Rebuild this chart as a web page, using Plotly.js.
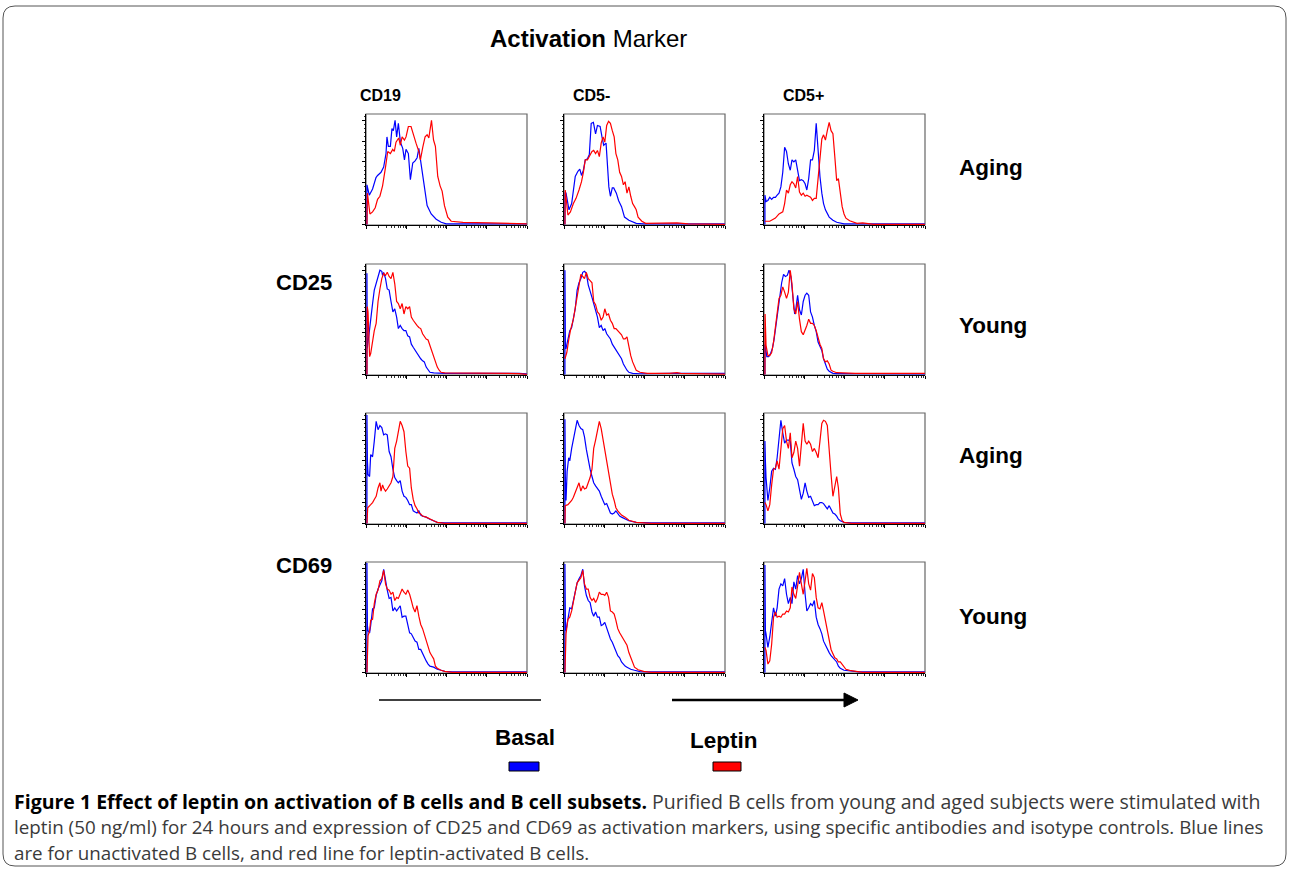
<!DOCTYPE html>
<html><head><meta charset="utf-8">
<script src="https://cdn.plot.ly/plotly-3.0.1.min.js"></script>
<style>html,body{margin:0;padding:0;background:#fff;}#chart{width:1290px;height:869px;}</style>
</head><body><div id="chart"></div>
<script>
// ---------- labels ----------
const columns = ['CD19', 'CD5-', 'CD5+'];
const markers = ['CD25', 'CD69'];
const ages = ['Aging', 'Young', 'Aging', 'Young'];
const seriesNames = ['Basal', 'Leptin'];
const seriesColors = ['#0000ff', '#ff0000'];
const chartTitle = '<b>Activation</b> Marker';
const captionLines = [
  '<b style="color:#000">Figure 1 Effect of leptin on activation of B cells and B cell subsets.</b> Purified B cells from young and aged subjects were stimulated with',
  'leptin (50 ng/ml) for 24 hours and expression of CD25 and CD69 as activation markers, using specific antibodies and isotype controls. Blue lines',
  'are for unactivated B cells, and red line for leptin-activated B cells.'
];

// ---------- histogram data: [channel (0-1023, 4-decade log), relative count (% of max)] ----------
const r1c1_basal = [[0,0],[0,38],[15,28],[36,34],[58,45],[68,47],[90,50],[107,55],[122,68],[128,84],[137,75],[150,75],[160,92],[169,90],[180,100],[190,84],[201,97],[214,79],[229,73],[240,62],[250,72],[265,68],[278,43],[293,59],[308,61],[321,64],[332,73],[347,56],[368,35],[385,18],[411,10],[443,5],[475,2],[507,0.5],[1023,0.5]];
const r1c1_leptin = [[0,0],[3,30],[19,10],[36,12],[53,16],[68,24],[83,27],[100,37],[118,54],[133,70],[150,68],[165,72],[175,70],[186,79],[203,83],[214,76],[225,84],[240,81],[250,84],[265,94],[282,94],[297,86],[314,78],[332,70],[342,62],[357,74],[372,84],[385,86],[396,83],[413,100],[426,81],[438,75],[453,46],[468,37],[481,32],[496,18],[517,7],[539,3],[614,2],[785,1.5],[1023,0.5]];
const r1c2_basal = [[0,0],[1,30],[7,30],[26,14],[43,20],[54,33],[66,46],[83,51],[95,53],[106,47],[118,52],[130,62],[144,63],[156,67],[168,97],[182,98],[196,87],[208,95],[225,94],[237,84],[248,76],[263,78],[272,60],[281,36],[291,27],[303,35],[312,35],[329,30],[343,23],[362,17],[381,7],[409,4],[456,1],[504,0.5],[1023,0.5]];
const r1c2_leptin = [[0,0],[2,33],[19,9],[35,12],[54,20],[71,25],[90,33],[106,41],[118,50],[130,62],[144,62],[161,66],[173,70],[184,71],[196,68],[208,71],[220,65],[232,78],[244,84],[255,79],[267,95],[279,99],[291,97],[303,90],[315,84],[326,68],[338,62],[350,50],[362,46],[374,38],[385,41],[397,30],[409,36],[421,27],[433,20],[445,17],[456,14],[468,7],[492,3],[516,1],[669,1],[717,1.5],[788,0.5],[1023,0]];
const r1c3_basal = [[0,0],[0,28],[7,22],[19,23],[31,26],[43,24],[55,26],[67,26],[78,28],[90,30],[102,36],[114,50],[126,74],[138,70],[150,58],[162,52],[173,62],[185,60],[197,62],[209,52],[221,42],[233,43],[245,42],[257,39],[268,33],[280,44],[292,62],[304,62],[316,71],[328,97],[340,68],[352,46],[364,30],[375,20],[387,14],[411,7],[435,4],[459,2],[506,0.5],[1023,0.5]];
const r1c3_leptin = [[0,3],[31,3],[67,6],[90,10],[114,12],[126,20],[138,33],[150,30],[162,38],[173,41],[185,39],[197,35],[209,46],[221,31],[233,28],[245,30],[257,27],[268,28],[280,27],[292,26],[304,23],[316,25],[328,25],[340,46],[352,62],[364,82],[375,86],[387,81],[399,90],[411,98],[423,90],[435,87],[447,65],[459,42],[470,44],[482,30],[494,17],[506,10],[518,6],[542,3.5],[565,2.5],[589,1],[625,1.5],[649,1],[696,0],[1023,0]];

const r2c1_basal = [[0,0],[0,97],[2,25],[12,37],[24,50],[36,68],[47,81],[59,87],[71,95],[83,100],[95,99],[100,95],[107,98],[119,92],[130,82],[142,81],[154,70],[166,60],[178,63],[190,55],[201,44],[213,47],[225,44],[237,42],[249,42],[261,37],[273,36],[284,29],[296,26],[308,23],[320,21],[332,18],[344,15],[356,13],[367,12],[379,7],[391,4],[403,2],[427,1.5],[498,1],[972,1],[1023,0.5]];
const r2c1_leptin = [[0,0],[2,65],[7,60],[17,17],[24,20],[36,34],[47,42],[59,49],[71,70],[83,82],[95,92],[107,97],[119,95],[130,98],[142,94],[154,92],[166,98],[178,87],[190,70],[201,68],[213,63],[225,68],[237,58],[249,65],[261,63],[273,65],[284,55],[296,52],[308,49],[320,47],[332,45],[344,44],[356,39],[367,36],[379,34],[391,33],[403,28],[415,21],[427,17],[438,12],[450,7],[462,4],[474,2],[498,1.5],[640,1.3],[972,0.8],[1023,0]];
const r2c2_basal = [[0,0],[0,100],[3,25],[7,25],[19,34],[31,42],[43,45],[54,55],[66,63],[78,81],[90,88],[102,92],[114,98],[125,99],[137,97],[149,86],[161,81],[173,74],[184,68],[196,62],[208,55],[220,45],[232,47],[244,42],[255,44],[267,39],[279,36],[291,34],[303,29],[315,26],[326,23],[338,20],[350,18],[362,15],[374,10],[385,7],[397,4],[409,2],[433,1],[480,0.6],[669,1],[1023,1]];
const r2c2_leptin = [[0,15],[12,21],[24,33],[35,42],[54,53],[66,63],[78,76],[90,87],[102,96],[114,94],[125,92],[137,98],[149,92],[161,90],[173,88],[184,70],[196,67],[208,60],[220,58],[232,52],[244,55],[255,63],[267,57],[279,58],[291,52],[303,49],[315,44],[326,44],[338,42],[350,41],[362,38],[374,34],[385,34],[397,36],[409,26],[421,18],[433,12],[445,7],[456,4],[480,2],[527,1],[669,1],[717,1.6],[740,1],[1023,0.3]];
const r2c3_basal = [[0,0],[0,28],[2,28],[12,17],[24,17],[36,20],[48,25],[59,34],[71,47],[83,63],[95,76],[107,88],[119,96],[131,94],[143,95],[154,100],[166,94],[178,79],[190,58],[197,62],[209,76],[221,62],[233,57],[245,70],[257,76],[268,78],[280,76],[292,60],[304,55],[316,47],[328,41],[340,31],[352,26],[364,23],[375,15],[387,9],[399,5],[411,3],[435,1],[459,0.8],[530,1.2],[577,0.8],[1023,0.5]];
const r2c3_leptin = [[0,0],[1,58],[7,28],[19,18],[31,18],[43,21],[55,31],[67,47],[78,63],[90,73],[102,76],[114,84],[126,79],[138,73],[150,79],[162,100],[173,87],[185,63],[197,58],[209,70],[221,53],[233,41],[245,38],[257,42],[268,47],[280,53],[292,49],[304,49],[316,47],[328,42],[340,34],[352,29],[364,25],[375,15],[387,12],[399,13],[411,10],[423,4],[435,3],[459,1.6],[577,1],[1023,1]];

const r3c1_basal = [[0,0],[0,104],[3,60],[7,47],[17,45],[24,66],[36,64],[47,79],[59,98],[71,90],[83,94],[95,92],[107,85],[119,86],[130,85],[142,69],[154,64],[166,52],[178,44],[190,41],[201,39],[213,41],[225,31],[237,26],[249,25],[261,22],[273,18],[284,18],[296,12],[308,11],[320,10],[332,12],[344,8],[356,7],[379,6],[403,4],[427,2.5],[450,1],[498,0.5],[1023,0.5]];
const r3c1_leptin = [[0,0],[2,15],[5,15],[24,18],[36,20],[47,23],[59,26],[71,34],[83,39],[90,31],[100,37],[107,34],[119,31],[130,33],[142,36],[154,39],[166,45],[178,72],[190,79],[201,88],[213,98],[225,94],[237,88],[249,69],[261,55],[273,53],[284,34],[296,23],[308,17],[320,14],[332,10],[344,9],[356,7],[379,6],[403,4],[427,2.5],[450,1],[498,0],[1023,0]];
const r3c2_basal = [[0,0],[0,100],[3,40],[7,22],[14,50],[24,63],[31,60],[43,72],[54,80],[66,91],[78,99],[90,94],[102,91],[114,90],[125,83],[137,71],[149,60],[161,52],[173,45],[184,39],[196,36],[208,34],[220,31],[232,26],[244,22],[255,18],[267,19],[279,15],[291,10],[303,9],[315,10],[326,12],[338,9],[350,7],[362,6],[385,4],[409,2.5],[456,1],[551,0.5],[1023,0.5]];
const r3c2_leptin = [[0,0],[2,17],[19,18],[31,20],[43,22],[54,25],[66,30],[78,34],[90,39],[102,31],[114,36],[125,33],[137,34],[149,39],[161,44],[173,52],[184,72],[196,80],[208,88],[220,98],[232,91],[244,80],[255,69],[267,57],[279,47],[291,37],[303,28],[315,22],[326,15],[338,12],[350,10],[362,8],[385,6],[409,3],[456,1],[551,0],[1023,0]];
const r3c3_basal = [[0,0],[0,79],[3,60],[7,44],[19,22],[31,34],[43,50],[55,53],[67,52],[78,63],[90,82],[102,99],[114,87],[126,77],[138,80],[150,80],[162,79],[173,58],[185,52],[197,45],[209,42],[221,33],[233,23],[245,29],[257,39],[268,31],[280,25],[292,26],[304,22],[316,17],[328,18],[340,18],[352,20],[364,20],[375,19],[387,17],[399,14],[411,17],[423,14],[435,10],[447,9],[459,7],[470,4],[482,2.5],[506,1],[554,0.5],[1023,0.5]];
const r3c3_leptin = [[0,20],[7,18],[19,12],[31,18],[43,37],[55,52],[67,53],[78,60],[90,52],[102,72],[114,91],[126,94],[138,79],[150,72],[162,87],[173,63],[185,68],[197,79],[209,72],[221,55],[233,76],[245,96],[257,79],[268,76],[280,79],[292,76],[304,69],[316,72],[328,68],[340,63],[352,79],[364,96],[375,99],[387,98],[399,94],[411,66],[423,47],[435,26],[447,37],[459,45],[470,34],[482,9],[494,2.5],[506,1],[554,0],[1023,0]];

const r4c1_basal = [[0,0],[0,105],[3,45],[7,40],[17,38],[24,45],[36,61],[47,62],[59,74],[71,80],[83,85],[95,88],[107,99],[119,86],[130,79],[142,71],[154,72],[166,59],[178,62],[190,59],[201,62],[213,64],[225,53],[237,54],[249,54],[261,46],[273,38],[284,37],[296,34],[308,30],[320,29],[332,22],[344,22],[356,18],[367,14],[379,11],[391,8],[403,6],[427,5],[450,3],[474,2],[498,1],[545,0.5],[1023,0.5]];
const r4c1_leptin = [[0,0],[3,35],[7,35],[17,40],[24,50],[36,51],[47,66],[59,75],[71,79],[83,88],[95,90],[107,98],[119,85],[130,80],[142,79],[154,75],[166,77],[178,69],[190,72],[201,71],[213,75],[225,80],[237,77],[249,75],[261,79],[273,75],[284,69],[296,62],[308,58],[320,64],[332,54],[344,46],[356,42],[367,37],[379,32],[391,26],[403,19],[415,16],[427,13],[438,6],[450,4],[474,2],[498,1],[545,0],[1023,0]];
const r4c2_basal = [[0,0],[0,104],[3,45],[7,40],[19,50],[31,62],[43,61],[54,69],[66,77],[78,86],[90,90],[102,93],[114,99],[125,83],[137,74],[149,69],[161,67],[173,58],[184,54],[196,58],[208,53],[220,53],[232,45],[244,46],[255,48],[267,42],[279,38],[291,32],[303,29],[315,24],[326,21],[338,16],[350,14],[362,10],[374,8],[385,6],[397,5],[421,3],[445,2],[480,0.7],[551,0.5],[1023,0.5]];
const r4c2_leptin = [[0,0],[3,37],[7,37],[19,51],[31,53],[43,59],[54,69],[66,77],[78,86],[90,88],[102,91],[114,98],[125,85],[137,80],[149,80],[161,72],[173,69],[184,71],[196,67],[208,71],[220,77],[232,75],[244,75],[255,74],[267,77],[279,72],[291,59],[303,58],[315,56],[326,50],[338,42],[350,38],[362,35],[374,32],[385,29],[397,26],[409,19],[421,14],[433,8],[445,5],[468,2.5],[504,1],[551,0],[1023,0]];
const r4c3_basal = [[0,0],[0,103],[3,40],[7,37],[19,24],[31,34],[43,46],[55,62],[67,54],[78,62],[90,80],[102,85],[114,83],[126,90],[138,75],[150,66],[162,72],[173,66],[185,87],[197,80],[209,93],[221,85],[233,90],[245,99],[257,75],[268,59],[280,62],[292,66],[304,64],[316,69],[328,53],[340,46],[352,42],[364,37],[375,30],[387,26],[399,22],[411,19],[423,16],[435,14],[447,13],[459,10],[470,6],[482,4],[506,2],[554,1],[601,0.5],[1023,0.5]];
const r4c3_leptin = [[0,24],[7,21],[19,8],[31,11],[43,27],[55,53],[67,58],[78,53],[90,54],[102,53],[114,56],[126,56],[138,59],[150,58],[162,62],[173,82],[185,75],[197,71],[209,83],[221,96],[233,85],[245,75],[257,88],[268,100],[280,85],[292,79],[304,95],[316,91],[328,72],[340,62],[352,61],[364,67],[375,59],[387,50],[399,38],[411,29],[423,22],[435,18],[447,14],[459,13],[470,10],[482,10],[494,8],[506,5],[518,3],[542,2],[577,1],[625,0],[1023,0]];

const panels = [
  [[r1c1_basal, r1c1_leptin], [r1c2_basal, r1c2_leptin], [r1c3_basal, r1c3_leptin]],
  [[r2c1_basal, r2c1_leptin], [r2c2_basal, r2c2_leptin], [r2c3_basal, r2c3_leptin]],
  [[r3c1_basal, r3c1_leptin], [r3c2_basal, r3c2_leptin], [r3c3_basal, r3c3_leptin]],
  [[r4c1_basal, r4c1_leptin], [r4c2_basal, r4c2_leptin], [r4c3_basal, r4c3_leptin]]
];

// ---------- layout geometry (pixels) ----------
const W = 1290, H = 869;
const colLeft = [366, 564, 764], colW = 161;
const rowTop = [114, 264, 413, 562], rowH = 111;
const X = px => px / W;
const Y = py => 1 - py / H;
const SANS = 'Liberation Sans, Arial, Helvetica, sans-serif';

const majorX = [0, 256, 512, 768, 1024];
const minorX = [];
for (let k = 0; k < 4; k++) for (let m = 2; m <= 9; m++) minorX.push(256 * (k + Math.log10(m)));

const traces = [];
const layout = {
  width: W, height: H, margin: {l: 0, r: 0, t: 0, b: 0},
  paper_bgcolor: '#fff', plot_bgcolor: 'rgba(0,0,0,0)',
  showlegend: false, shapes: [], annotations: []
};

let idx = 0;
for (let r = 0; r < 4; r++) {
  for (let c = 0; c < 3; c++) {
    idx++;
    const xs = idx === 1 ? '' : String(idx);
    const l = colLeft[c], t = rowTop[r];
    layout['xaxis' + xs] = {
      domain: [X(l), X(l + colW)], range: [-6, 1024], anchor: 'y' + xs,
      showline: true, linecolor: '#000', linewidth: 1, mirror: false,
      ticks: 'outside', tickvals: majorX, ticklen: 3, tickwidth: 1, tickcolor: '#000',
      showticklabels: false, showgrid: false, zeroline: false, fixedrange: true,
      minor: {tickvals: minorX, ticks: 'outside', ticklen: 2, tickwidth: 0.8, tickcolor: '#000', showgrid: false}
    };
    layout['yaxis' + xs] = {
      domain: [Y(t + rowH), Y(t)], range: [-0.6, 106], anchor: 'x' + xs,
      showline: true, linecolor: '#000', linewidth: 1, mirror: false,
      ticks: 'outside', tickvals: [0, 20, 40, 60, 80, 100], ticklen: 3, tickwidth: 1, tickcolor: '#000',
      showticklabels: false, showgrid: false, zeroline: false, fixedrange: true,
      minor: {tick0: 0, dtick: 4, ticks: 'outside', ticklen: 1.5, tickwidth: 0.8, tickcolor: '#000', showgrid: false}
    };
    layout.shapes.push({type: 'rect', xref: 'paper', yref: 'paper', x0: X(l), x1: X(l + colW), y0: Y(t + rowH), y1: Y(t),
      line: {color: '#666', width: 1.2}, fillcolor: 'rgba(0,0,0,0)', layer: 'below'});
    panels[r][c].forEach((series, s) => {
      traces.push({
        type: 'scatter', mode: 'lines', name: seriesNames[s],
        x: series.map(p => p[0]), y: series.map(p => p[1]),
        xaxis: 'x' + xs, yaxis: 'y' + xs,
        line: {color: seriesColors[s], width: 1.2}, hoverinfo: 'skip'
      });
    });
  }
}

function ann(text, x, y, size, extra) {
  return Object.assign({text, x: X(x), y: Y(y), xref: 'paper', yref: 'paper', showarrow: false,
    xanchor: 'center', yanchor: 'middle', font: {family: SANS, size, color: '#000'}}, extra || {});
}
// title
layout.annotations.push(ann(chartTitle, 588, 39, 24));
// column headers
const colCenters = [380, 591, 803];
columns.forEach((t, i) => layout.annotations.push(ann('<b>' + t + '</b>', colCenters[i], 95, 16)));
// marker labels (each spans two rows)
const markerY = [283, 565];
markers.forEach((t, i) => layout.annotations.push(ann('<b>' + t + '</b>', 304, markerY[i], 22)));
// age labels
const ageY = [167, 325, 455, 616];
ages.forEach((t, i) => layout.annotations.push(ann('<b>' + t + '</b>', 957, ageY[i], 22.5, {xanchor: 'left'})));
// legend
const legX = [525, 724], legTextY = [737, 740], legBox = [[509, 539], [713, 741]];
seriesNames.forEach((n, i) => {
  layout.annotations.push(ann('<b>' + n + '</b>', legX[i], legTextY[i], 22.5));
  layout.shapes.push({type: 'rect', xref: 'paper', yref: 'paper', x0: X(legBox[i][0]), x1: X(legBox[i][1]),
    y0: Y(771), y1: Y(762), fillcolor: seriesColors[i], line: {color: '#000', width: 1}});
});
// caption
const capY = [801, 827, 853];
const capSize = [19.5, 18.8, 18.8];
captionLines.forEach((t, i) => layout.annotations.push(ann(t, 12, capY[i], capSize[i],
  {xanchor: 'left', font: {family: 'Open Sans, Noto Sans, sans-serif', size: capSize[i], color: '#3a3a3a'}})));

// arrow (fluorescence intensity direction)
layout.shapes.push({type: 'line', xref: 'paper', yref: 'paper', x0: X(379), x1: X(541), y0: Y(700), y1: Y(700), line: {color: '#000', width: 1.5}});
layout.shapes.push({type: 'line', xref: 'paper', yref: 'paper', x0: X(672), x1: X(846), y0: Y(700), y1: Y(700), line: {color: '#000', width: 2.5}});
layout.shapes.push({type: 'path', xref: 'paper', yref: 'paper',
  path: `M ${X(844)},${Y(693)} L ${X(858)},${Y(700)} L ${X(844)},${Y(707)} Z`, fillcolor: '#000', line: {color: '#000', width: 1}});

// rounded outer border
const bx0 = 3, by0 = 6, bx1 = 1286, by1 = 866, rr = 12;
const P = (x, y) => `${X(x)},${Y(y)}`;
layout.shapes.push({type: 'path', xref: 'paper', yref: 'paper', layer: 'below',
  path: `M ${P(bx0 + rr, by0)} L ${P(bx1 - rr, by0)} Q ${P(bx1, by0)} ${P(bx1, by0 + rr)} L ${P(bx1, by1 - rr)} Q ${P(bx1, by1)} ${P(bx1 - rr, by1)} L ${P(bx0 + rr, by1)} Q ${P(bx0, by1)} ${P(bx0, by1 - rr)} L ${P(bx0, by0 + rr)} Q ${P(bx0, by0)} ${P(bx0 + rr, by0)} Z`,
  line: {color: '#555', width: 1}, fillcolor: 'rgba(0,0,0,0)'});

Plotly.newPlot('chart', traces, layout, {displayModeBar: false, staticPlot: true});
</script>
</body></html>
